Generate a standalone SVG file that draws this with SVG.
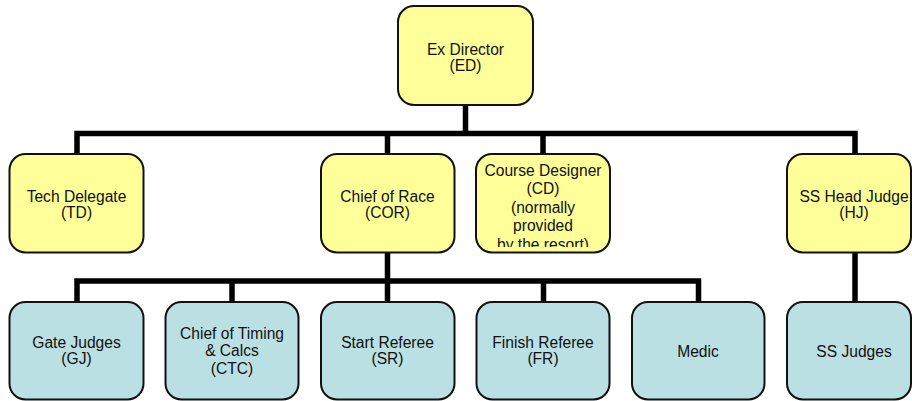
<svg xmlns="http://www.w3.org/2000/svg" width="912" height="401" viewBox="0 0 912 401">
<style>
.y{fill:#FFFF99;stroke:#111;stroke-width:2}
.b{fill:#BBE0E3;stroke:#111;stroke-width:2}
text{font-family:"Liberation Sans",Arial,sans-serif;font-size:15.6px;fill:#111;text-anchor:middle}
.c{fill:none;stroke:#000;stroke-width:5.5;stroke-linejoin:miter;stroke-linecap:butt}
</style>
<defs>
<clipPath id="cdclip"><rect x="476" y="154" width="134" height="93"/></clipPath>
</defs>
<rect width="912" height="401" fill="#fff"/>
<g id="connectors">
<path class="c" d="M465.5,105 V133.5"/>
<path class="c" d="M77,154 V133.5 H855 V154"/>
<path class="c" d="M387.5,133.5 V154"/>
<path class="c" d="M543,133.5 V154"/>
<path class="c" d="M387.5,253 V302"/>
<path class="c" d="M77,302 V281 H698.5 V302"/>
<path class="c" d="M232,281 V302"/>
<path class="c" d="M543.5,281 V302"/>
<path class="c" d="M855,253 V302"/>
</g>
<g id="ED">
<rect class="y" x="398" y="6" width="135" height="99" rx="16"/>
<text x="465.5" y="54.5">Ex Director</text>
<text x="465.5" y="70.5">(ED)</text>
</g>
<g id="TD">
<rect class="y" x="9.5" y="154" width="134" height="98.5" rx="16"/>
<text x="76.5" y="201.5">Tech Delegate</text>
<text x="76.5" y="218">(TD)</text>
</g>
<g id="COR">
<rect class="y" x="321" y="154" width="133.5" height="98.5" rx="16"/>
<text x="387.5" y="201.5">Chief of Race</text>
<text x="387.5" y="218">(COR)</text>
</g>
<g id="CD">
<rect class="y" x="476" y="154" width="134" height="98.5" rx="16"/>
<g clip-path="url(#cdclip)">
<text x="543" y="175.5">Course Designer</text>
<text x="543" y="194">(CD)</text>
<text x="543" y="212.5">(normally</text>
<text x="543" y="231">provided</text>
<text x="543" y="249.5">by the resort)</text>
</g>
</g>
<g id="HJ">
<rect class="y" x="787" y="154" width="124" height="98.5" rx="16"/>
<text x="854" y="201.5">SS Head Judge</text>
<text x="854" y="218">(HJ)</text>
</g>
<g id="GJ">
<rect class="b" x="9.5" y="302" width="134" height="97.5" rx="16"/>
<text x="76.5" y="347.5">Gate Judges</text>
<text x="76.5" y="364">(GJ)</text>
</g>
<g id="CTC">
<rect class="b" x="165.5" y="302" width="133" height="97.5" rx="16"/>
<text x="232" y="338.5">Chief of Timing</text>
<text x="232" y="356">&amp; Calcs</text>
<text x="232" y="373.5">(CTC)</text>
</g>
<g id="SR">
<rect class="b" x="321" y="302" width="133.5" height="97.5" rx="16"/>
<text x="387.5" y="347.5">Start Referee</text>
<text x="387.5" y="364">(SR)</text>
</g>
<g id="FR">
<rect class="b" x="476.5" y="302" width="133" height="97.5" rx="16"/>
<text x="543" y="347.5">Finish Referee</text>
<text x="543" y="364">(FR)</text>
</g>
<g id="Medic">
<rect class="b" x="632" y="302" width="132.5" height="97.5" rx="16"/>
<text x="698" y="356.5">Medic</text>
</g>
<g id="SSJ">
<rect class="b" x="787" y="302" width="124" height="97.5" rx="16"/>
<text x="854" y="356.5">SS Judges</text>
</g>
</svg>
